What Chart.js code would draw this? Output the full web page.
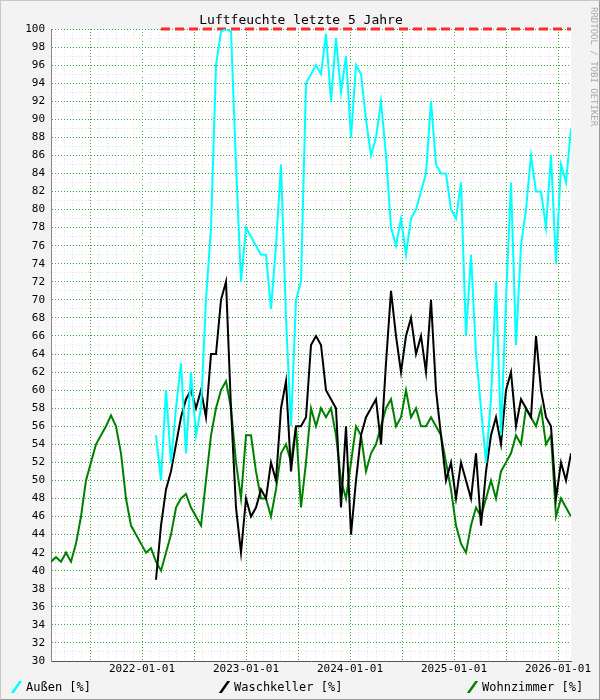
<!DOCTYPE html>
<html><head><meta charset="utf-8">
<script src="https://cdn.jsdelivr.net/npm/chart.js@4/dist/chart.umd.min.js"></script>
<style>
html,body{margin:0;padding:0;background:#f3f3f3;}
#wrap{position:relative;width:600px;height:700px;box-sizing:border-box;border:1px solid #c8c8c8;border-right-color:#999;border-bottom-color:#999;}
canvas{position:absolute;left:0;top:0;}
.t{position:absolute;font-family:"DejaVu Sans Mono",monospace;color:#000;}
#title{left:0;width:600px;top:11px;text-align:center;font-size:13px;}
#wm{right:0px;top:6px;writing-mode:vertical-rl;font-size:9px;color:#aaa;}
.lg{top:679px;font-size:12px;}
.sw{display:inline-block;width:3px;height:12px;transform:skewX(-35deg);margin-right:8px;vertical-align:-2px;}
</style></head><body>
<div id="wrap">
<canvas id="c" width="600" height="700"></canvas>
<div class="t" id="title">Luftfeuchte letzte 5 Jahre</div>
<div class="t" id="wm">RRDTOOL / TOBI OETIKER</div>
<div class="t lg" style="left:14px"><span class="sw" style="background:#00ffff"></span>Außen [%]</div>
<div class="t lg" style="left:222px"><span class="sw" style="background:#000"></span>Waschkeller [%]</div>
<div class="t lg" style="left:470px"><span class="sw" style="background:#008000"></span>Wohnzimmer [%]</div>
</div>
<script>
const startYear = 2021.125;
const stepYear = 5/104;
const wohnStart = 0;
const wohnzimmer = [41,41.5,41,42,41,43,46,50,52,54,55,56,57.2,56,53,48,45,44,43,42,42.5,41,40,42,44,47,48,48.5,47,46,45,50,55,58,60,61,58,52,48,55,55,51,48,48,46,49,53,54,52,56,47,52,58,56,58,57,58,55,50,48,52,56,55,51,53,54,56,58,59,56,57,60,57,58,56,56,57,56,55,52,49,45,43,42,45,47,46,48,50,48,51,52,53,55,54,58,57,56,58,54,55,46,48,47,46];
const kellerStart = 21;
const waschkeller = [39,45,49,51,54,57,59,60,58,60,57,64,64,70,72,58,47,42,48,46,47,49,48,52,50,58,61,51,56,56,57,65,66,65,60,59,58,47,56,44,50,55,57,58,59,54,63,71,66,62,66,68,64,66,62,70,60,55,50,52,48,52,50,48,53,45,51,55,57,54,60,62,56,59,58,57,66,60,57,56,48,52,50,53];
const aussenStart = 21;
const aussen = [55,50,60,52,58,63,53,62,55,58,70,78,96,99.7,100,99.7,85,72,78,77,76,75,75,69,76,85,68,56,70,72,94,95,96,95,99.5,92,99,93,97,88,96,95,90,86,88,92,86,78,76,79,75,79,80,82,84,92,85,84,84,80,79,83,66,75,64,58,52,59,72,55,70,83,65,76,80,86,82,82,78,86,74,85,83,89];
const maxFlagStart = 22;
const maxFlag = new Array(84).fill(100);
const yearLabels = [2022,2023,2024,2025,2026];

function pts(arr, s){ return arr.map((v,i)=>({x:startYear+(s+i)*stepYear, y:v})); }
const base = {pointRadius:0,borderWidth:2,tension:0,fill:false};
const whiteBg = {id:'whiteBg',beforeDraw(ch){const a=ch.chartArea,x=ch.ctx;x.save();x.fillStyle='#fff';x.fillRect(a.left,a.top,a.right-a.left,a.bottom-a.top);x.restore();}};
new Chart(document.getElementById('c'),{
  type:'line',
  plugins:[whiteBg],
  data:{datasets:[
    {...base,data:pts(aussen,aussenStart),borderColor:'#00ffff'},
    {...base,data:pts(waschkeller,kellerStart),borderColor:'#000000'},
    {...base,data:pts(wohnzimmer,wohnStart),borderColor:'#008000'},
    {...base,data:pts(maxFlag,maxFlagStart),borderColor:'#ff2a2a',borderDash:[9,5],borderWidth:3,clip:false}
  ]},
  options:{
    responsive:false,animation:false,
    layout:{padding:{top:28,right:30,left:0,bottom:0}},
    plugins:{legend:{display:false},tooltip:{enabled:false}},
    scales:{
      x:{type:'linear',min:startYear,max:2026.125,
        afterBuildTicks:a=>{const t=[];for(let y=2021;y<=2026;y++)for(let m=0;m<12;m++){const v=y+m/12;if(v>a.min+1e-6&&v<a.max-1e-6)t.push({value:v});}a.ticks=t;},
        afterFit:s=>{s.height=40;},
        ticks:{autoSkip:false,maxRotation:0,padding:2,color:'#000',font:{family:'DejaVu Sans Mono',size:11},
          callback:v=>{const r=Math.round(v);return (Math.abs(v-r)<1e-6&&yearLabels.includes(r))?r+'-01-01':'';}},
        grid:{color:c=>{const v=c.tick?c.tick.value:0;const m=Math.round((v-Math.floor(v+1e-6))*12);return m%6===0?'#3aa83a':'#e2e2e2';},lineWidth:1,drawTicks:false},
        border:{color:'#555',dash:[1,2]}
      },
      y:{min:30,max:100,
        afterFit:s=>{s.width=50;},
        ticks:{stepSize:1,autoSkip:false,padding:6,color:'#000',font:{family:'DejaVu Sans Mono',size:11},callback:v=>v%2===0?v:''},
        grid:{color:c=>c.tick&&c.tick.value%2===0?'#3aa83a':'#e2e2e2',lineWidth:1,drawTicks:false},
        border:{color:'#888',dash:[1,2]}
      }
    }
  }
});
</script></body></html>
